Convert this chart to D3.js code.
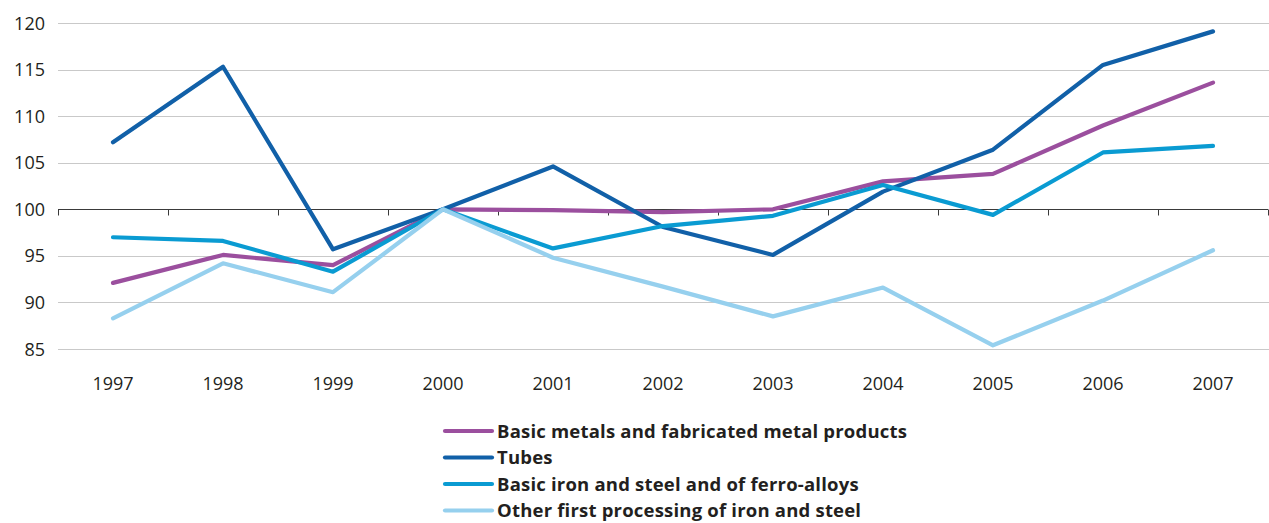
<!DOCTYPE html>
<html>
<head>
<meta charset="utf-8">
<script src="https://cdn.jsdelivr.net/npm/d3@7"></script>
<style>
  html, body { margin: 0; padding: 0; background: #fff; }
  svg { display: block; }
  text { font-family: "Open Sans", "Noto Sans", sans-serif; fill: #231f20; }
</style>
</head>
<body>
<svg id="chart" width="1269" height="523"></svg>
<script>
// Index values, 2000 = 100
const years = ["1997","1998","1999","2000","2001","2002","2003","2004","2005","2006","2007"];
const basicMetals = [92.1, 95.1, 94.0, 100, 99.9, 99.7, 100.0, 103.0, 103.8, 109.0, 113.6];
const tubes       = [107.2, 115.3, 95.7, 100, 104.6, 98.1, 95.1, 101.9, 106.4, 115.5, 119.1];
const ironSteel   = [97.0, 96.6, 93.3, 100, 95.8, 98.2, 99.3, 102.6, 99.4, 106.1, 106.8];
const otherFirst  = [88.3, 94.2, 91.1, 100, 94.8, 91.7, 88.5, 91.6, 85.4, 90.2, 95.6];
const yTicks = [85, 90, 95, 100, 105, 110, 115, 120];
const seriesNames = [
  "Basic metals and fabricated metal products",
  "Tubes",
  "Basic iron and steel and of ferro-alloys",
  "Other first processing of iron and steel"
];
const seriesColors = ["#9b4f9e", "#1160a8", "#0a9bd2", "#96d0ee"];
const seriesValues = [basicMetals, tubes, ironSteel, otherFirst];

const svg = d3.select("#chart");
const left = 58, right = 1268;

const x = d3.scaleBand().domain(years).range([left, right]);
const y = d3.scaleLinear().domain([85, 120]).range([349, 23]);

// horizontal gridlines
svg.append("g")
  .selectAll("line")
  .data(yTicks.filter(d => d !== 100))
  .join("line")
  .attr("x1", left).attr("x2", 1269)
  .attr("y1", d => Math.round(y(d)) + 0.5).attr("y2", d => Math.round(y(d)) + 0.5)
  .attr("stroke", "#c9c9c9").attr("stroke-width", 1);

// y tick labels
svg.append("g")
  .selectAll("text")
  .data(yTicks)
  .join("text")
  .attr("x", 45).attr("y", d => y(d) + 6.5)
  .attr("text-anchor", "end")
  .style("font-size", "18px")
  .text(d => d);

// baseline at 100 with category separators
const xAxis = d3.axisBottom(x).tickSize(0).tickFormat("");
const axisG = svg.append("g")
  .attr("transform", `translate(0,${Math.round(y(100)) + 0.5})`)
  .call(xAxis);
axisG.select(".domain").attr("stroke", "#3a3a3a").attr("d", `M${left},0H${right}`);
axisG.selectAll(".tick").remove();
const bounds = years.map(d => x(d)).concat([right]);
axisG.selectAll("line.sep")
  .data(bounds)
  .join("line")
  .attr("class", "sep")
  .attr("x1", d => Math.round(d) + 0.5).attr("x2", d => Math.round(d) + 0.5)
  .attr("y1", 0).attr("y2", 6)
  .attr("stroke", "#3a3a3a");

// year labels
svg.append("g")
  .selectAll("text")
  .data(years)
  .join("text")
  .attr("x", d => x(d) + x.bandwidth() / 2)
  .attr("y", 390)
  .attr("text-anchor", "middle")
  .style("font-size", "18px")
  .text(d => d);

// series lines
const line = d3.line()
  .x((d, i) => x(years[i]) + x.bandwidth() / 2)
  .y(d => y(d));

svg.append("g")
  .selectAll("path")
  .data(seriesValues)
  .join("path")
  .attr("d", d => line(d))
  .attr("fill", "none")
  .attr("stroke", (d, i) => seriesColors[i])
  .attr("stroke-width", 4.2)
  .attr("stroke-linejoin", "round")
  .attr("stroke-linecap", "round");

// legend
const legend = svg.append("g");
const legendRows = legend.selectAll("g")
  .data(seriesNames)
  .join("g")
  .attr("transform", (d, i) => `translate(0,${431 + i * 26.5})`);
legendRows.append("line")
  .attr("x1", 445).attr("x2", 492)
  .attr("y1", 0).attr("y2", 0)
  .attr("stroke", (d, i) => seriesColors[i])
  .attr("stroke-width", 4.2)
  .attr("stroke-linecap", "round");
legendRows.append("text")
  .attr("x", 497).attr("y", 6.5)
  .style("font-size", "18.5px")
  .style("font-weight", "bold")
  .style("letter-spacing", "0.2px")
  .text(d => d);
</script>
</body>
</html>
